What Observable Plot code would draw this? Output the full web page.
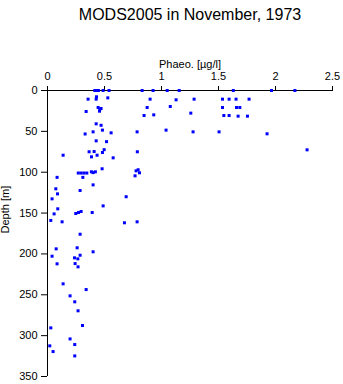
<!DOCTYPE html>
<html>
<head>
<meta charset="utf-8">
<script src="https://cdn.jsdelivr.net/npm/d3@7"></script>
<script src="https://cdn.jsdelivr.net/npm/@observablehq/plot@0.6"></script>
<style>
  body { margin: 0; background: white; }
</style>
</head>
<body>
<div id="chart"></div>
<script>
const title = "MODS2005 in November, 1973";
const xLabel = "Phaeo. [µg/l]";
const yLabel = "Depth [m]";
const xTicks = [0, 0.5, 1, 1.5, 2, 2.5];
const yTicks = [0, 50, 100, 150, 200, 250, 300, 350];

const phaeo = [
  0.415, 0.433, 0.447, 0.488, 0.54, 0.83, 0.926, 1.05, 1.155, 1.63, 1.965, 2.17,
  0.43, 0.529, 0.356, 0.427, 0.9, 1.128, 1.286, 1.535, 1.593, 1.654, 1.768,
  0.444, 0.47, 0.459, 0.456, 0.339, 0.874, 1.077, 1.535, 1.658, 1.687,
  1.257, 0.847, 0.932, 1.547, 1.593, 1.672, 1.754,
  0.427, 0.47, 0.482, 0.4, 0.558, 0.786, 1.04, 1.277, 1.505, 1.926, 0.33,
  0.427, 0.518, 0.497, 0.482, 0.576, 0.788, 0.365, 0.409, 0.386, 0.435, 0.137, 2.277,
  0.479, 0.27, 0.295, 0.32, 0.345, 0.385, 0.40, 0.42, 0.795, 0.777, 0.807, 0.768, 0.084, 0.31,
  0.4, 0.073, 0.286, 0.088, 0.69, 0.04, 0.488, 0.09, 0.058, 0.248, 0.272, 0.295, 0.392, 0.029, 0.128, 0.675, 0.786,
  0.286, 0.076, 0.26, 0.4, 0.04, 0.286, 0.237, 0.266, 0.084, 0.242, 0.268,
  0.137, 0.339, 0.198, 0.239, 0.268, 0.307, 0.029, 0.198, 0.239, 0.02, 0.049, 0.239
];
const depth = [
  0, 0, 0, 0, 0, 0, 0, 0, 0, 0, 0, 0,
  7.7, 9, 10.6, 10.6, 10.6, 11.4, 10.6, 10.6, 10.6, 10.6, 10.6,
  20.8, 22, 22.9, 25.3, 25.7, 20.8, 19.6, 20.8, 20.8, 20.8,
  27.7, 30.6, 29.8, 30.6, 30.6, 31.4, 31.4,
  40.8, 42.6, 48.5, 50.6, 51.8, 50.6, 48.5, 50.6, 50.6, 53, 53.2,
  61.6, 62.6, 72.4, 75.9, 82.4, 75, 75, 74.7, 81.2, 79.2, 79.2, 72.6,
  95.8, 101, 101, 101, 101, 99.5, 100.5, 99.5, 97, 98.3, 100.7, 104.4, 106.3, 106.3,
  115.5, 120.3, 122.4, 126.5, 130, 132.6, 141.2, 144.8, 151, 150.5, 149.3, 148.1, 149.3, 159, 160.7, 161.9, 160.7,
  175.9, 193.8, 192.5, 197.4, 202.8, 201.6, 204.8, 206, 212.1, 211.8, 215.8,
  236.6, 243.6, 251.3, 258.6, 269.6, 287.6, 290.5, 304, 310.9, 312.5, 319.5, 324.8
];

const data = phaeo.map((p, i) => ({phaeo: p, depth: depth[i]}));

const chart = Plot.plot({
  width: 343,
  height: 384,
  marginTop: 90,
  marginLeft: 47,
  marginRight: 11,
  marginBottom: 8,
  style: {fontFamily: "'Liberation Sans', Arial, sans-serif", fontSize: "11px", background: "white", color: "black"},
  x: {domain: [0, 2.5]},
  y: {domain: [0, 350], reverse: true},
  marks: [
    Plot.axisX({anchor: "top", ticks: xTicks, tickSize: 5, tickPadding: 6, label: null, tickFormat: d => String(d)}),
    Plot.axisY({anchor: "left", ticks: yTicks, tickSize: 6, tickPadding: 4, label: null}),
    Plot.ruleY([0]),
    Plot.ruleX([0]),
    Plot.dot(data, {x: "phaeo", y: "depth", symbol: "square", r: 1.7, fill: "#0000ff"}),
    Plot.text([title], {frameAnchor: "top", dy: -82, fontSize: 16}),
    Plot.text([xLabel], {frameAnchor: "top", dy: -30, fontSize: 11}),
    Plot.text([yLabel], {frameAnchor: "left", dx: -42, rotate: -90, fontSize: 11})
  ]
});
document.getElementById("chart").append(chart);
</script>
</body>
</html>
